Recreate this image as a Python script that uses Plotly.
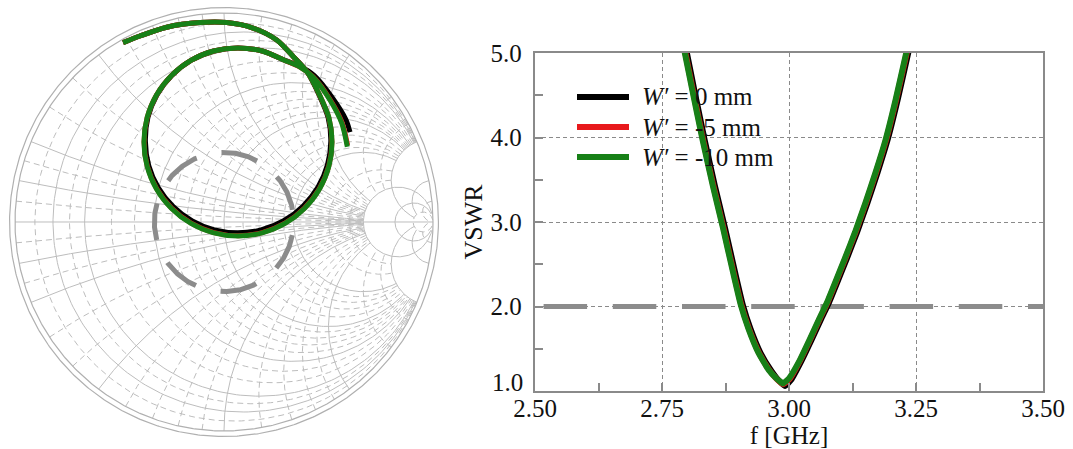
import numpy as np
import plotly.graph_objects as go

# ---------------- data ----------------
labels = ["<i>W′</i> = 0 mm", "<i>W′</i> = -5 mm", "<i>W′</i> = -10 mm"]
colors = ["#000000", "#e8191c", "#178017"]

# VSWR versus frequency
freq_0 = [2.79, 2.799, 2.814, 2.834, 2.854, 2.874, 2.894, 2.909, 2.924, 2.944, 2.964,
          2.979, 2.992, 3.004, 3.024, 3.044, 3.064, 3.079, 3.094, 3.114, 3.134, 3.154,
          3.174, 3.194, 3.214, 3.234, 3.24]
vswr_0 = [5.25, 5.0, 4.55, 3.97, 3.43, 2.93, 2.40, 2.02, 1.74, 1.45, 1.25, 1.13, 1.06,
          1.13, 1.35, 1.60, 1.86, 2.05, 2.27, 2.57, 2.88, 3.22, 3.58, 3.97, 4.45, 4.98, 5.15]
freq_5 = [2.787, 2.796, 2.811, 2.831, 2.851, 2.871, 2.891, 2.906, 2.921, 2.941, 2.961,
          2.976, 2.989, 3.001, 3.021, 3.041, 3.061, 3.076, 3.091, 3.111, 3.131, 3.151,
          3.171, 3.191, 3.211, 3.231, 3.237]
vswr_5 = [5.25, 5.0, 4.55, 3.97, 3.43, 2.93, 2.40, 2.02, 1.74, 1.45, 1.25, 1.14, 1.08,
          1.14, 1.35, 1.60, 1.86, 2.05, 2.27, 2.57, 2.88, 3.22, 3.58, 3.97, 4.45, 4.98, 5.15]
freq_10 = [2.786, 2.795, 2.81, 2.83, 2.85, 2.87, 2.89, 2.905, 2.92, 2.94, 2.96,
           2.975, 2.988, 3.0, 3.02, 3.04, 3.06, 3.075, 3.09, 3.11, 3.13, 3.15,
           3.17, 3.19, 3.21, 3.23, 3.236]
vswr_10 = [5.25, 5.0, 4.55, 3.97, 3.43, 2.93, 2.40, 2.02, 1.74, 1.45, 1.25, 1.15, 1.09,
           1.15, 1.35, 1.60, 1.86, 2.05, 2.27, 2.57, 2.88, 3.22, 3.58, 3.97, 4.45, 4.98, 5.15]

vswr_limit = 2.0
f_band = [2.5, 3.5]
vswr_ticks = [1.0, 2.0, 3.0, 4.0, 5.0]

# reflection coefficient loci (real and imaginary parts of Gamma)
gre_10 = [-0.483, -0.402, -0.274, -0.115, 0.013, 0.139, 0.252, 0.332, 0.400,
          0.457, 0.502, 0.517, 0.502, 0.457, 0.385, 0.292, 0.183, 0.067, -0.049,
          -0.158, -0.251, -0.323, -0.368, -0.383, -0.368, -0.323, -0.251, -0.158,
          -0.049, 0.067, 0.183, 0.292, 0.362, 0.426, 0.507, 0.563, 0.590]
gim_10 = [0.858, 0.890, 0.932, 0.954, 0.954, 0.928, 0.871, 0.791, 0.715,
          0.608, 0.499, 0.383, 0.267, 0.158, 0.065, -0.007, -0.052, -0.067, -0.052,
          -0.007, 0.065, 0.158, 0.267, 0.383, 0.499, 0.608, 0.701, 0.773,
          0.818, 0.833, 0.818, 0.773, 0.742, 0.694, 0.584, 0.474, 0.360]
gre_0 = [-0.483, -0.402, -0.274, -0.115, 0.013, 0.139, 0.252, 0.332, 0.400,
         0.455, 0.498, 0.511, 0.495, 0.450, 0.379, 0.288, 0.181, 0.067, -0.046,
         -0.152, -0.243, -0.314, -0.360, -0.376, -0.364, -0.321, -0.250, -0.158,
         -0.049, 0.067, 0.183, 0.292, 0.364, 0.432, 0.520, 0.583, 0.603]
gim_0 = [0.858, 0.890, 0.932, 0.954, 0.954, 0.928, 0.871, 0.791, 0.715,
         0.608, 0.500, 0.386, 0.273, 0.167, 0.077, 0.007, -0.037, -0.052, -0.038,
         0.005, 0.074, 0.164, 0.270, 0.385, 0.500, 0.608, 0.701, 0.773,
         0.818, 0.833, 0.818, 0.773, 0.745, 0.700, 0.592, 0.490, 0.430]
gre_5 = [0.1 * a + 0.9 * b for a, b in zip(gre_0, gre_10)]
gim_5 = [0.1 * a + 0.9 * b for a, b in zip(gim_0, gim_10)]

# Smith chart grid values: (value, solid?)
grid_r = [(0.05, False), (0.1, True), (0.15, False), (0.2, True), (0.3, False), (0.4, False),
          (0.5, True), (0.6, False), (0.7, False), (0.8, False), (0.9, False), (1.0, True),
          (1.2, False), (1.4, False), (1.6, False), (1.8, False), (2.0, True), (3.0, False),
          (4.0, False), (5.0, True), (10.0, True), (20.0, False)]
grid_x = [(0.05, False), (0.1, True), (0.15, False), (0.2, True), (0.3, False), (0.4, False),
          (0.5, True), (0.6, False), (0.7, False), (0.8, False), (0.9, False), (1.0, True),
          (1.2, False), (1.4, False), (1.6, False), (1.8, False), (2.0, True), (3.0, False),
          (4.0, False), (5.0, True), (10.0, True), (20.0, False)]

FONT = "Liberation Serif"
GRID_C = "#bdbdbd"
TXT = "#111111"


def gamma(z):
    return (z - 1) / (z + 1)


def r_circle(r, xmax, n=240):
    c = r / (1 + r)
    rad = 1 / (1 + r)
    t1 = np.angle(gamma(complex(r, xmax)) - c)
    t = np.linspace(t1, 2 * np.pi - t1, n)
    return c + rad * np.cos(t), rad * np.sin(t)


def x_arc(x, rmax, n=200):
    c = complex(1, 1 / x)
    rad = 1 / x
    a0 = np.angle(gamma(complex(0, x)) - c)
    a1 = np.angle(gamma(complex(rmax, x)) - c)
    while a1 < a0:
        a1 += 2 * np.pi
    t = np.linspace(a0, a1, n)
    p = c + rad * np.exp(1j * t)
    return p.real, p.imag


def join(paths):
    xs, ys = [], []
    for px, py in paths:
        xs += list(px) + [None]
        ys += list(py) + [None]
    return xs, ys


solid, dashed = [], []
for r, s in grid_r:
    xmax = 5.0 if r < 5 else (50.0 if r < 20 else 200.0)
    (solid if s else dashed).append(r_circle(r, xmax))
for x, s in grid_x:
    rmax = 5.0 if x < 5 else (20.0 if x < 20 else 200.0)
    px, py = x_arc(x, rmax)
    (solid if s else dashed).append((px, py))
    (solid if s else dashed).append((px, -py))
solid.append(([-1, 1], [0, 0]))

fig = go.Figure()

sx, sy = join(solid)
dx, dy = join(dashed)
fig.add_trace(go.Scatter(x=dx, y=dy, mode="lines", xaxis="x2", yaxis="y2",
                         line=dict(color=GRID_C, width=1, dash="6px,4px"),
                         hoverinfo="skip", showlegend=False))
fig.add_trace(go.Scatter(x=sx, y=sy, mode="lines", xaxis="x2", yaxis="y2",
                         line=dict(color=GRID_C, width=1),
                         hoverinfo="skip", showlegend=False))
th = np.linspace(0, 2 * np.pi, 721)
for rr in (1.0, 1.026):
    fig.add_trace(go.Scatter(x=rr * np.cos(th), y=rr * np.sin(th), mode="lines",
                             xaxis="x2", yaxis="y2", line=dict(color="#b0b0b0", width=1.2),
                             hoverinfo="skip", showlegend=False))

# VSWR = 2 circle on the Smith chart, traced clockwise from the left side
g_lim = (vswr_limit - 1) / (vswr_limit + 1)
tc = np.deg2rad(195) - th
fig.add_trace(go.Scatter(x=g_lim * np.cos(tc), y=g_lim * np.sin(tc),
                         mode="lines", xaxis="x2", yaxis="y2",
                         line=dict(color="#8c8c8c", width=5, dash="37px,25.5px"),
                         hoverinfo="skip", showlegend=False))

for gre, gim, col in [(gre_0, gim_0, colors[0]), (gre_5, gim_5, colors[1]),
                      (gre_10, gim_10, colors[2])]:
    fig.add_trace(go.Scatter(x=gre, y=gim, mode="lines", xaxis="x2", yaxis="y2",
                             line=dict(color=col, width=5, shape="spline", smoothing=0.8),
                             showlegend=False))

# VSWR panel
fig.add_trace(go.Scatter(x=f_band, y=[vswr_limit, vswr_limit], mode="lines",
                         line=dict(color="#8c8c8c", width=5, dash="0px,8.6px,43.5px,17.1px"),
                         hoverinfo="skip", showlegend=False))
for f, v, col, name in [(freq_0, vswr_0, colors[0], labels[0]),
                        (freq_5, vswr_5, colors[1], labels[1]),
                        (freq_10, vswr_10, colors[2], labels[2])]:
    fig.add_trace(go.Scatter(x=f, y=v, mode="lines", name=name,
                             line=dict(color=col, width=6, shape="spline", smoothing=0.4),
                             showlegend=False))

# legend: line samples with labels
leg_y = [97, 127, 157]
for yy, col, lab in zip(leg_y, colors, labels):
    fig.add_shape(type="line", xref="paper", yref="paper",
                  x0=577 / 1073, x1=629 / 1073, y0=1 - yy / 449, y1=1 - yy / 449,
                  line=dict(color=col, width=6))
    fig.add_annotation(xref="paper", yref="paper", x=640 / 1073, y=1 - yy / 449,
                       text=lab, showarrow=False, xanchor="left", yanchor="middle",
                       font=dict(family=FONT, size=25, color=TXT))

# lowest VSWR label sits a little above its tick so it clears the frequency labels
y_text = ["" if v == vswr_ticks[0] else f"{v:.1f}\u00a0" for v in vswr_ticks]
fig.add_annotation(xref="paper", yref="y", x=535 / 1073, y=vswr_ticks[0],
                   text=f"{vswr_ticks[0]:.1f}", showarrow=False, xanchor="right",
                   yanchor="middle", xshift=-10, yshift=9,
                   font=dict(family=FONT, size=25, color=TXT))

axis_common = dict(showline=True, linecolor="#8a8a8a", linewidth=2, mirror=True,
                   ticks="inside", ticklen=8, tickcolor="#8a8a8a", tickwidth=1.5,
                   showgrid=True, gridcolor="#8a8a8a", gridwidth=1, griddash="4px,3px",
                   zeroline=False, automargin=False,
                   tickfont=dict(family=FONT, size=25, color=TXT))

fig.update_layout(
    width=1073, height=449,
    margin=dict(l=0, r=0, t=0, b=0),
    paper_bgcolor="white", plot_bgcolor="white",
    template="none",
    showlegend=False,
    xaxis=dict(domain=[535 / 1073, 1043 / 1073], range=[2.5, 3.5], dtick=0.25,
               tickformat=".2f", tick0=2.5, ticklabelstandoff=-6,
               minor=dict(dtick=0.125, ticks="inside", ticklen=8, tickcolor="#8a8a8a",
                          showgrid=False),
               title=dict(text="f [GHz]", font=dict(family=FONT, size=25, color=TXT),
                          standoff=0),
               **axis_common),
    yaxis=dict(domain=[58 / 449, 396 / 449], range=[1, 5],
               tickvals=vswr_ticks, ticktext=y_text,
               minor=dict(dtick=0.5, ticks="inside", ticklen=8, tickcolor="#8a8a8a",
                          showgrid=False),
               title=dict(text="VSWR", font=dict(family=FONT, size=26, color=TXT),
                          standoff=0),
               **axis_common),
    xaxis2=dict(domain=[0.004240, 0.413280], range=[-1.05, 1.05], visible=False,
                anchor="y2"),
    yaxis2=dict(domain=[0.016815, 0.994321], range=[-1.05, 1.05], visible=False,
                anchor="x2"),
)

fig.write_html("out.html")
